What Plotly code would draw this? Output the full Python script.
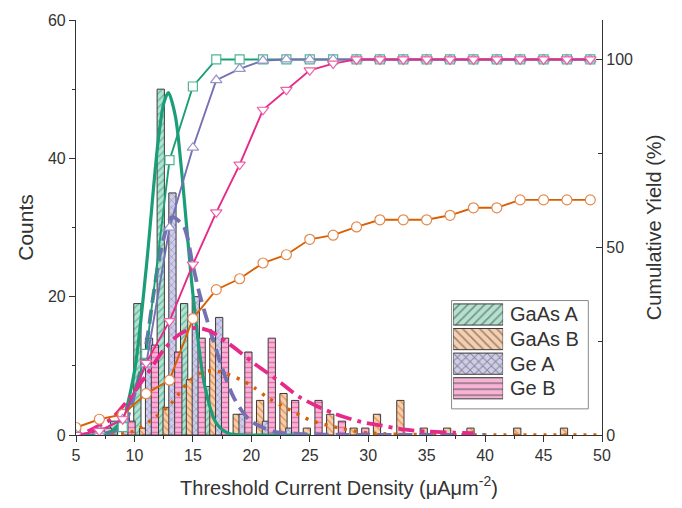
import plotly.graph_objects as go

# ---------------- data ----------------
series = ["GaAs A", "GaAs B", "Ge A", "Ge B"]
bin_centers = [5, 7, 9, 11, 13, 15, 17, 19, 21, 23, 25, 27, 29, 31, 33, 35, 37, 39, 41, 43, 45, 47, 49]

gaas_a_counts = [0, 0, 2, 19, 50, 19, 7, 0, 0, 0, 0, 0, 0, 0, 0, 0, 0, 0, 0, 0, 0, 0, 0]
gaas_b_counts = [0, 1, 0, 1, 4, 8, 14, 3, 5, 6, 1, 3, 1, 3, 5, 1, 1, 1, 0, 1, 0, 1, 0]
ge_a_counts = [0, 1, 3, 14, 35, 20, 17, 3, 2, 1, 0, 0, 0, 0, 0, 0, 0, 0, 0, 0, 0, 0, 0]
ge_b_counts = [0, 1, 2, 13, 12, 14, 14, 12, 14, 5, 5, 2, 1, 0, 0, 0, 0, 0, 0, 0, 0, 0, 0]

gaas_a_cum = [0, 0, 2.1, 21.6, 73.2, 92.8, 100, 100, 100, 100, 100, 100, 100, 100, 100, 100, 100, 100, 100, 100, 100, 100, 100]
gaas_b_cum = [2.0, 4.2, 5.5, 11.0, 14.6, 31.0, 38.7, 41.6, 45.8, 48.0, 52.1, 53.2, 55.4, 57.3, 57.3, 57.3, 58.5, 60.5, 60.5, 62.6, 62.6, 62.6, 62.6]
ge_a_cum = [0, 1.0, 4.2, 18.8, 55.2, 76.5, 94.5, 97.5, 99.7, 100, 100, 100, 100, 100, 100, 100, 100, 100, 100, 100, 100, 100, 100]
ge_b_cum = [0, 1.1, 4.2, 19.2, 30.3, 45.4, 59.3, 72.0, 86.6, 91.9, 97.1, 98.9, 100, 100, 100, 100, 100, 100, 100, 100, 100, 100, 100]

# fitted distribution curves
gaas_a_fit_x = [7.5, 8, 9, 10, 11, 12, 12.5, 12.9, 13.5, 14, 15, 16, 17, 18, 19, 21, 25]
gaas_a_fit_y = [0.05, 0.4, 2.35, 9.2, 24.0, 42.1, 47.9, 49.5, 46.1, 38.8, 20.4, 7.2, 1.7, 0.27, 0.03, 0, 0]
gaas_b_fit_x = [8, 9.5, 10.5, 11.8, 13.1, 14.7, 15.7, 16.6, 17.4, 19.1, 20.2, 21.4, 23.1, 25.1, 27.7, 30, 35, 40, 50]
gaas_b_fit_y = [0, 0.3, 1.1, 2.6, 4.5, 7.8, 9.0, 9.3, 9.1, 8.0, 6.9, 5.4, 3.8, 2.1, 0.95, 0.3, 0.05, 0, 0]
ge_a_fit_x = [7.5, 9, 10, 11, 11.6, 12.3, 13.2, 14.2, 15, 15.6, 16.5, 17.4, 18.5, 19.9, 21.9, 24, 28, 34, 40]
ge_a_fit_y = [0.2, 1.2, 5.9, 13, 20, 27, 31.5, 30.2, 24.5, 20.2, 15, 10.2, 5.4, 2.1, 0.5, 0.15, 0.03, 0, 0]
ge_b_fit_x = [6, 6.8, 8, 9.6, 11, 12.6, 13.8, 15.2, 16.5, 17.4, 18.8, 19.95, 21.95, 24.2, 27.1, 29.4, 31.1, 33, 35, 37.4, 39]
ge_b_fit_y = [0.5, 1.2, 2.3, 5.4, 8.6, 12.5, 14.5, 15.5, 15, 14, 12.3, 10.7, 8.3, 5.4, 3.1, 1.9, 1.4, 0.8, 0.5, 0.35, 0.25]

x_ticks = [5, 10, 15, 20, 25, 30, 35, 40, 45, 50]
y_ticks = [0, 20, 40, 60]
y2_ticks = [0, 50, 100]

# ---------------- styles ----------------
line_colors = ["#1b9e77", "#d95f02", "#7570b3", "#e7298a"]
marker_edge = ["#4fb592", "#e28a4e", "#9894c9", "#ec62a6"]
fill_colors = ["#b4e2d1", "#f8cfae", "#cfcde9", "#f6b3d6"]
pattern_shapes = ["/", "\\", "x", "-"]
bar_shift = [-0.75, -0.25, 0.25, 0.75]
bar_width = 0.62
symbols = ["square", "circle", "triangle-up", "triangle-down"]
fit_dash = ["solid", "3px,7px", "14px,7px", "16px,6px,4px,6px"]
fit_width = [3.2, 3.4, 3.8, 3.8]
FONT = "Liberation Sans, Arial, sans-serif"
TXT = "#333333"

counts = [gaas_a_counts, gaas_b_counts, ge_a_counts, ge_b_counts]
cums = [gaas_a_cum, gaas_b_cum, ge_a_cum, ge_b_cum]
fits = [(gaas_a_fit_x, gaas_a_fit_y), (gaas_b_fit_x, gaas_b_fit_y),
        (ge_a_fit_x, ge_a_fit_y), (ge_b_fit_x, ge_b_fit_y)]

fig = go.Figure()

# histogram bars
for i, name in enumerate(series):
    ys = [v if v > 0 else None for v in counts[i]]
    fig.add_trace(go.Bar(
        x=bin_centers, y=ys, name=name, width=bar_width,
        offset=bar_shift[i] - bar_width / 2,
        marker=dict(color=fill_colors[i],
                    line=dict(color="#3a3a3a", width=1),
                    pattern=dict(shape=pattern_shapes[i], fgcolor=line_colors[i],
                                 bgcolor=fill_colors[i], size=5, solidity=0.3)),
        showlegend=False, hoverinfo="skip"))

# fit curves
for i, name in enumerate(series):
    fx, fy = fits[i]
    fig.add_trace(go.Scatter(
        x=fx, y=fy, mode="lines", line=dict(color=line_colors[i], width=fit_width[i],
                                            dash=fit_dash[i], shape="spline", smoothing=0.8),
        showlegend=False, hoverinfo="skip"))

# cumulative yield
for i, name in enumerate(series):
    fig.add_trace(go.Scatter(
        x=bin_centers, y=cums[i], yaxis="y2", mode="lines+markers",
        line=dict(color=line_colors[i], width=1.9),
        marker=dict(symbol=symbols[i], size=10 if i != 0 else 9, color="white",
                    line=dict(color=marker_edge[i], width=1.2)),
        showlegend=False, hoverinfo="skip"))

# custom legend with large patterned swatches
fig.add_trace(go.Bar(
    x=[1] * len(series), y=list(range(len(series))), orientation="h",
    xaxis="x3", yaxis="y3", width=0.86,
    marker=dict(color=fill_colors, line=dict(color="#3a3a3a", width=1),
                pattern=dict(shape=pattern_shapes, fgcolor=line_colors,
                             bgcolor=fill_colors, size=6, solidity=0.3)),
    showlegend=False, hoverinfo="skip"))

annotations = []
for i, name in enumerate(series):
    annotations.append(dict(
        x=1.1, xref="x3 domain", y=i, yref="y3", text=name, showarrow=False,
        xanchor="left", yanchor="middle", font=dict(family=FONT, size=20, color=TXT)))

axis_common = dict(showline=True, linecolor="#333333", linewidth=1.2, showgrid=False,
                   zeroline=False, tickfont=dict(family=FONT, size=16, color=TXT),
                   tickcolor="#333333")

fig.update_layout(
    width=682, height=508,
    margin=dict(l=76, r=80, t=13, b=73),
    paper_bgcolor="white", plot_bgcolor="white",
    barmode="overlay",
    font=dict(family=FONT, color=TXT),
    xaxis=dict(range=[5, 50], tickvals=x_ticks, ticks="outside", ticklen=6,
               minor=dict(dtick=2.5, ticks="outside", ticklen=3, tickcolor="#333333"),
               title=dict(text="Threshold Current Density (μAμm<sup>-2</sup>)",
                          font=dict(family=FONT, size=20, color=TXT), standoff=17),
               **axis_common),
    yaxis=dict(range=[0, 60], tickvals=y_ticks, ticks="outside", ticklen=6,
               minor=dict(dtick=10, ticks="outside", ticklen=3, tickcolor="#333333"),
               title=dict(text="Counts", font=dict(family=FONT, size=21, color=TXT), standoff=8),
               **axis_common),
    yaxis2=dict(range=[0, 110.5], overlaying="y", side="right", tickvals=y2_ticks,
                ticks="inside", ticklen=6,
                minor=dict(tickvals=[25, 75], ticks="inside", ticklen=4, tickcolor="#333333"),
                title=dict(text="Cumulative Yield (%)", font=dict(family=FONT, size=20, color=TXT),
                           standoff=14),
                **axis_common),
    xaxis3=dict(domain=[0.717, 0.812], anchor="y3", range=[0, 1], visible=False),
    yaxis3=dict(domain=[0.083, 0.320], anchor="x3", range=[3.5, -0.5], visible=False),
    shapes=[dict(type="rect", xref="paper", yref="paper", x0=0.714, x1=0.974,
                 y0=0.063, y1=0.324, line=dict(color="#8a8a8a", width=1),
                 fillcolor="white", layer="below")],
    annotations=annotations,
)

fig.write_html("out.html")
